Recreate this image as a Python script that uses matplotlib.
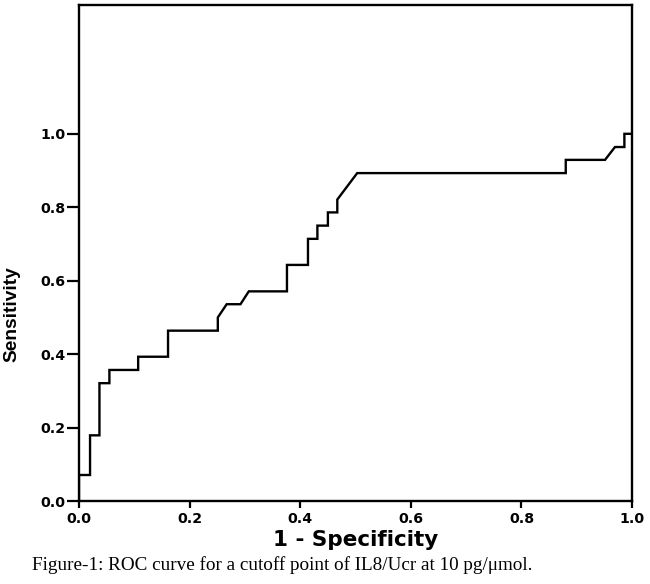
import matplotlib
matplotlib.use("Agg")
from matplotlib import pyplot as plt
import numpy as np

# ROC curve points (1 - specificity, sensitivity)
fpr = [0.0, 0.0, 0.02, 0.02, 0.037, 0.037, 0.055, 0.055, 0.107, 0.107,
       0.161, 0.161, 0.251, 0.251, 0.267, 0.292, 0.307, 0.376, 0.376,
       0.414, 0.414, 0.431, 0.431, 0.450, 0.450, 0.467, 0.467, 0.485,
       0.503, 0.880, 0.880, 0.951, 0.969, 0.986, 0.986, 1.0]
tpr = [0.0, 0.071, 0.071, 0.179, 0.179, 0.321, 0.321, 0.357, 0.357, 0.393,
       0.393, 0.464, 0.464, 0.5, 0.536, 0.536, 0.571, 0.571, 0.643,
       0.643, 0.714, 0.714, 0.75, 0.75, 0.786, 0.786, 0.821, 0.857,
       0.893, 0.893, 0.929, 0.929, 0.964, 0.964, 1.0, 1.0]

xticks = [0.0, 0.2, 0.4, 0.6, 0.8, 1.0]
yticks = [0.0, 0.2, 0.4, 0.6, 0.8, 1.0]

fig = plt.figure(figsize=(6.5, 5.84), dpi=100)
ax = fig.add_axes([0.1215, 0.142, 0.851, 0.849])

ax.plot(fpr, tpr, color='black', lw=1.7, solid_joinstyle='miter')

ax.set_xlim(0, 1)
ax.set_ylim(0, 1.35)
ax.set_xticks(xticks)
ax.set_yticks(yticks)
ax.set_xticklabels(['%.1f' % v for v in xticks], fontfamily='DejaVu Sans',
                   fontweight='bold', fontsize=10.2)
ax.set_yticklabels(['%.1f' % v for v in yticks], fontfamily='DejaVu Sans',
                   fontweight='bold', fontsize=10.2)
ax.tick_params(axis='x', direction='out', length=5, width=1.6, pad=3)
ax.tick_params(axis='y', direction='out', length=9, width=1.6, pad=1)

for s in ax.spines.values():
    s.set_linewidth(1.7)
    s.set_color('black')

ax.set_xlabel('1 - Specificity', fontfamily='DejaVu Sans', fontweight='bold',
              fontsize=15.5, labelpad=3)
fig.text(0.019, 0.462, 'Sensitivity', rotation=90, ha='center', va='center',
         fontfamily='Liberation Sans', fontweight='bold', fontsize=13.8)

fig.text(0.049, 0.024, 'Figure-1: ROC curve for a cutoff point of IL8/Ucr at 10 pg/\u03bcmol.',
         fontfamily='Liberation Serif', fontsize=13.8, ha='left', va='baseline')

fig.savefig('out.png', dpi=100)
